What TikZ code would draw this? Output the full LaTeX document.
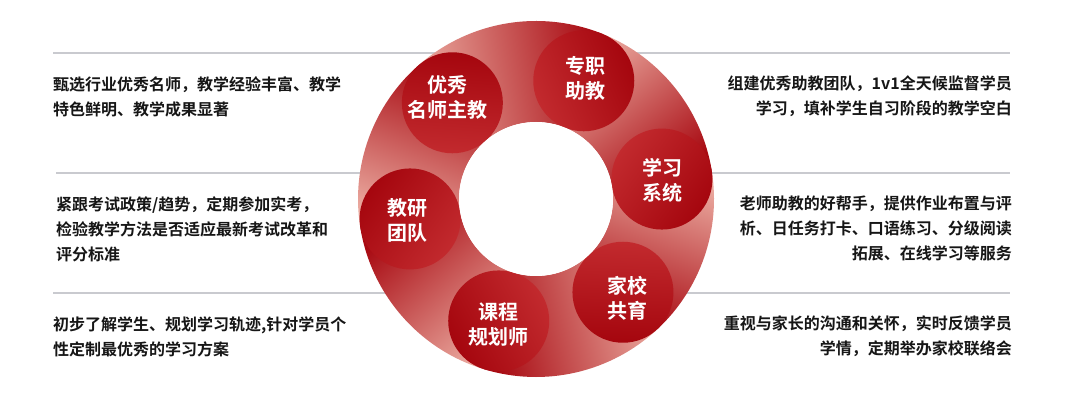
\documentclass[tikz,border=0pt]{standalone}
\usepackage{fontspec}
\usepackage{xcolor}
\newfontfamily\cjk{Noto Sans CJK SC}[BoldFont={Noto Sans CJK SC Bold}]
\definecolor{taildark}{HTML}{A80A12}
\definecolor{taillight}{HTML}{EAA89E}
\definecolor{headdark}{HTML}{A5060E}
\definecolor{headlight}{HTML}{C22A2E}
\definecolor{rulegray}{HTML}{C9CACF}
\definecolor{desctext}{HTML}{161616}

\begin{document}
\begin{tikzpicture}[
  x=1pt,y=1pt,
  desc/.style={inner sep=0pt,text=desctext,font=\cjk\bfseries\fontsize{16}{25}\selectfont},
  ldesc/.style={desc,anchor=north west,align=left},
  rdesc/.style={desc,anchor=north east,align=right},
  divider/.style={draw=rulegray,line width=1.5pt},
  tail/.style={top color=taillight,bottom color=taildark},
  head/.style={top color=headlight,bottom color=headdark},
  hlabel/.style={inner sep=0pt,align=center,text=white,font=\cjk\bfseries\fontsize{20}{25}\selectfont}
]
  \fill[white] (0,0) rectangle (1072,418);
  \useasboundingbox (0,0) rectangle (1072,418);

  % divider lines
  \coordinate (lineL1) at (53,365);  \coordinate (lineR1) at (1010,365);
  \coordinate (lineL2) at (56,245);  \coordinate (lineR2) at (1010,245);
  \coordinate (lineL3) at (53,125);  \coordinate (lineR3) at (1010,125);
  \draw[divider] (lineL1) -- (lineR1);
  \draw[divider] (lineL2) -- (lineR2);
  \draw[divider] (lineL3) -- (lineR3);

  \begin{scope}[shift={(536,219)}]
    % tails (light end under the next head)
    \shade[tail,shading angle=160]   (131:178pt) arc[start angle=131,end angle=189,radius=178pt] -- (189:77pt) arc[start angle=189,end angle=131,radius=77pt] -- cycle;
    \shade[tail,shading angle=99.5]  (68:178pt) arc[start angle=68,end angle=131,radius=178pt] -- (131:77pt) arc[start angle=131,end angle=68,radius=77pt] -- cycle;
    \shade[tail,shading angle=38.5]  (9:178pt) arc[start angle=9,end angle=68,radius=178pt] -- (68:77pt) arc[start angle=68,end angle=9,radius=77pt] -- cycle;
    \shade[tail,shading angle=-19]   (-47:178pt) arc[start angle=-47,end angle=9,radius=178pt] -- (9:77pt) arc[start angle=9,end angle=-47,radius=77pt] -- cycle;
    \shade[tail,shading angle=-77]   (-107:178pt) arc[start angle=-107,end angle=-47,radius=178pt] -- (-47:77pt) arc[start angle=-47,end angle=-107,radius=77pt] -- cycle;
    \shade[tail,shading angle=221]   (189:178pt) arc[start angle=189,end angle=253,radius=178pt] -- (253:77pt) arc[start angle=253,end angle=189,radius=77pt] -- cycle;
    % heads
    \shade[head,shading angle=176]  (131:127.5pt) circle[radius=50.5pt];
    \shade[head,shading angle=113]  (68:127.5pt) circle[radius=50.5pt];
    \shade[head,shading angle=54]   (9:127.5pt) circle[radius=50.5pt];
    \shade[head,shading angle=-2]   (-47:127.5pt) circle[radius=50.5pt];
    \shade[head,shading angle=-62]  (-107:127.5pt) circle[radius=50.5pt];
    \shade[head,shading angle=234]  (189:127.5pt) circle[radius=50.5pt];
    \fill[white] (0,0) circle[radius=77pt];

    \node[hlabel] (youxiu)  at (-89,102)  {优秀\\名师主教};
    \node[hlabel] (zhuanzhi) at (49,121)  {专职\\助教};
    \node[hlabel] (xuexi)   at (126,19)   {学习\\系统};
    \node[hlabel] (jiaxiao) at (91,-99)   {家校\\共育};
    \node[hlabel] (kecheng) at (-38,-126) {课程\\规划师};
    \node[hlabel] (jiaoyan) at (-129,-21) {教研\\团队};
  \end{scope}

  \node[ldesc] (descYouxiu)  at (53,342) {甄选行业优秀名师，教学经验丰富、教学\\特色鲜明、教学成果显著};
  \node[ldesc] (descJiaoyan) at (56,221) {紧跟考试政策/趋势，定期参加实考，\\检验教学方法是否适应最新考试改革和\\评分标准};
  \node[ldesc] (descKecheng) at (53,101) {初步了解学生、规划学习轨迹,针对学员个\\性定制最优秀的学习方案};
  \node[rdesc] (descZhuanzhi) at (1012,342) {组建优秀助教团队，1v1全天候监督学员\\学习，填补学生自习阶段的教学空白};
  \node[rdesc] (descXuexi)   at (1012,222) {老师助教的好帮手，提供作业布置与评\\析、日任务打卡、口语练习、分级阅读\\拓展、在线学习等服务};
  \node[rdesc] (descJiaxiao) at (1012,102) {重视与家长的沟通和关怀，实时反馈学员\\学情，定期举办家校联络会};
\end{tikzpicture}
\end{document}
